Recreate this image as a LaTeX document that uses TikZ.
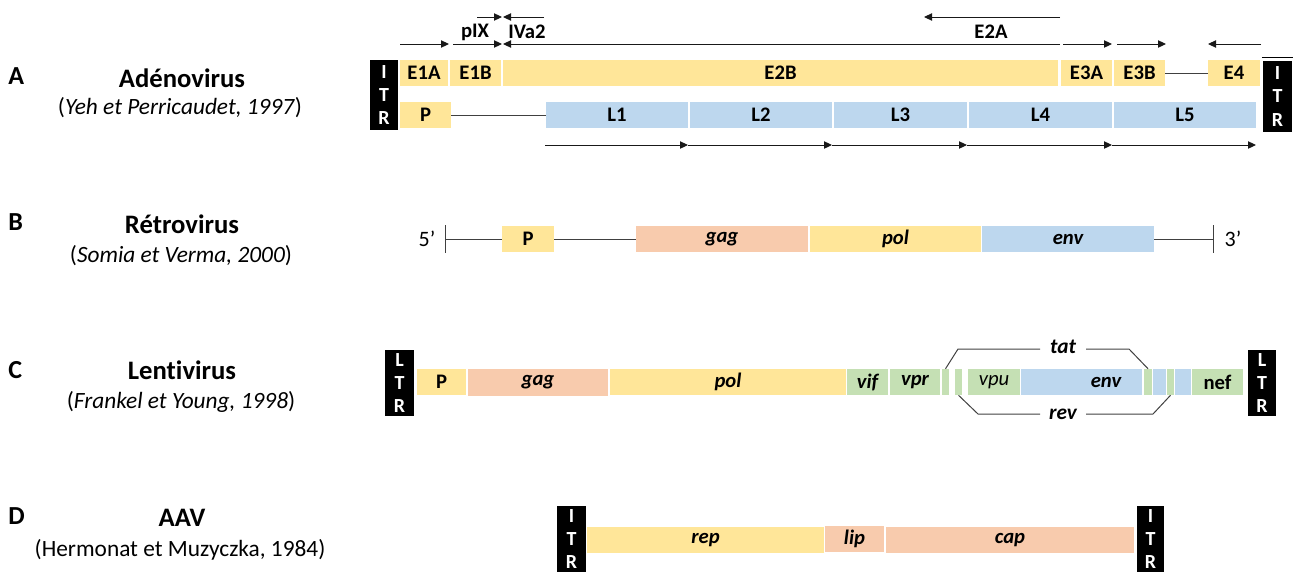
\documentclass[tikz,border=0pt]{standalone}
\usepackage{fontspec}
\setmainfont{Carlito}[Ligatures=NoCommon]
\usetikzlibrary{arrows.meta}
\definecolor{gyel}{HTML}{FFE699}
\definecolor{gblu}{HTML}{BDD7EE}
\definecolor{gsal}{HTML}{F8CBAD}
\definecolor{ggrn}{HTML}{C5E0B4}
\definecolor{lnc}{HTML}{404040}
\newcommand\myfs[2]{\fontsize{#1}{#2}\selectfont}
\newcommand\gbox[7]{\node[gene,#6,minimum width={(#4-#2)*0.75pt},minimum height={(#5-#3)*0.75pt}] (#1) at ({(#2+#4)/2},{(#3+#5)/2}) {#7};}
\tikzset{
  gene/.style={inner sep=0pt, draw=none, text=black, font=\bfseries\myfs{15.5}{17}},
  yel/.style={fill=gyel},
  blu/.style={fill=gblu},
  sal/.style={fill=gsal},
  grn/.style={fill=ggrn},
  itbf/.style={font=\bfseries\itshape\myfs{15.5}{17}},
  itrbox/.style={fill=black, text=white, align=center, font=\bfseries\myfs{15}{17.5}},
  arr/.style={-{Triangle[length=6pt,width=5.5pt]}, line width=0.75pt, draw=black!90},
  link/.style={line width=0.75pt, draw=lnc},
  lbl/.style={inner sep=0pt, text=black, font=\bfseries\myfs{15.5}{17}},
  letter/.style={inner sep=0pt, anchor=west, font=\bfseries\myfs{19.5}{22}},
  title/.style={inner sep=0pt, font=\bfseries\myfs{20}{24}},
  cite/.style={inner sep=0pt, font=\myfs{17.5}{20}},
  prime/.style={inner sep=0pt, font=\myfs{16.5}{19}},
}
\begin{document}
\begin{tikzpicture}[x=0.75pt,y=-0.75pt]
\useasboundingbox (0,0) rectangle (1294,572);

% ---------------- left labels ----------------
\node[letter] (lA) at (8,76) {A};
\node[title] (tA) at (182,78) {Adénovirus};
\node[cite] (cA) at (180,108) {(\textit{Yeh et Perricaudet, 1997})};
\node[letter] (lB) at (8,222) {B};
\node[title] (tB) at (182,224) {Rétrovirus};
\node[cite] (cB) at (181,256) {(\textit{Somia et Verma, 2000})};
\node[letter] (lC) at (8,370) {C};
\node[title] (tC) at (182,370) {Lentivirus};
\node[cite] (cC) at (181,402) {(\textit{Frankel et Young, 1998})};
\node[letter] (lD) at (8,516) {D};
\node[title] (tD) at (182,518) {AAV};
\node[cite] (cD) at (180,550) {(Hermonat et Muzyczka, 1984)};

% ---------------- A : adenovirus ----------------
\gbox{itrA1}{370}{60}{398}{130}{itrbox}{I\\T\\R}
\gbox{e1a}{400}{60}{448}{86}{yel}{E1A}
\gbox{e1b}{450}{60}{501}{86}{yel}{E1B}
\gbox{e2b}{503}{60}{1058}{86}{yel}{E2B}
\gbox{e3a}{1061}{60}{1112}{86}{yel}{E3A}
\gbox{e3b}{1114}{60}{1165}{86}{yel}{E3B}
\gbox{e4}{1208}{60}{1260}{86}{yel}{E4}
\gbox{itrA2}{1263}{61}{1292}{132}{itrbox}{I\\T\\R}
\draw[line width=1pt] (itrA2.north west)++(-1,-3) coordinate (itrtop1) -- ++(31,0) coordinate (itrtop2);
\gbox{pA}{400}{102}{451}{128}{yel}{P}
\gbox{L1}{546}{102}{688}{128}{blu}{L1}
\gbox{L2}{690}{102}{832}{128}{blu}{L2}
\gbox{L3}{834}{102}{967}{128}{blu}{L3}
\gbox{L4}{969}{102}{1112}{128}{blu}{L4}
\gbox{L5}{1114}{102}{1256}{128}{blu}{L5}
\draw[link] (pA.east) -- (L1.west);
\draw[link] (e3b.east) -- (e4.west);

% transcription arrows (top)
\coordinate (a1s) at (400,44); \coordinate (a1e) at (449,44);
\coordinate (a2s) at (453,44); \coordinate (a2e) at (502,44);
\coordinate (a3s) at (1060,44); \coordinate (a3e) at (503,44);
\coordinate (a4s) at (1063,44); \coordinate (a4e) at (1112,44);
\coordinate (a5s) at (1117,44); \coordinate (a5e) at (1166,44);
\coordinate (a6s) at (1261,44); \coordinate (a6e) at (1208,44);
\coordinate (t1s) at (477,17); \coordinate (t1e) at (502,17);
\coordinate (t2s) at (544,17); \coordinate (t2e) at (503,17);
\coordinate (t3s) at (1060,17); \coordinate (t3e) at (924,17);
\draw[arr] (a1s) -- (a1e);
\draw[arr] (a2s) -- (a2e);
\draw[arr] (a3s) -- (a3e);
\draw[arr] (a4s) -- (a4e);
\draw[arr] (a5s) -- (a5e);
\draw[arr] (a6s) -- (a6e);
\draw[arr] (t1s) -- (t1e);
\draw[arr] (t2s) -- (t2e);
\draw[arr] (t3s) -- (t3e);
\node[lbl] (pix) at (475,32) {pIX};
\node[lbl] (iva2) at (527,32) {IVa2};
\node[lbl] (e2a) at (991,32) {E2A};

% late arrows (bottom)
\coordinate (b0) at (545,145);
\coordinate (b1) at (688,145);
\coordinate (b2) at (832,145);
\coordinate (b3) at (967,145);
\coordinate (b4) at (1112,145);
\coordinate (b5) at (1256,145);
\draw[arr] (b0) -- (b1);
\draw[arr] (b1) -- (b2);
\draw[arr] (b2) -- (b3);
\draw[arr] (b3) -- (b4);
\draw[arr] (b4) -- (b5);

% ---------------- B : retrovirus ----------------
\coordinate (tk5a) at (445,225); \coordinate (tk5b) at (445,253); \coordinate (tk5) at (445,239);
\coordinate (tk3a) at (1213,225); \coordinate (tk3b) at (1213,253); \coordinate (tk3) at (1213,239);
\draw[link] (tk5a) -- (tk5b);
\draw[link] (tk3a) -- (tk3b);
\node[prime] (p5) at (427,239) {5’};
\node[prime] (p3) at (1233,239) {3’};
\gbox{pB}{502}{226}{554}{252}{yel}{P}
\gbox{gagB}{636}{226}{808}{252}{sal,itbf}{gag}
\gbox{polB}{810}{226}{981}{252}{yel,itbf}{pol}
\gbox{envB}{982}{226}{1154}{252}{blu,itbf}{env}
\draw[link] (tk5) -- (pB.west);
\draw[link] (pB.east) -- (gagB.west);
\draw[link] (envB.east) -- (tk3);

% ---------------- C : lentivirus ----------------
\gbox{ltrC1}{385}{350}{414}{416}{itrbox}{L\\T\\R}
\gbox{pC}{417}{369}{466}{395}{yel}{P}
\gbox{gagC}{468}{369}{608}{396}{sal,itbf}{gag}
\gbox{polC}{610}{369}{846}{395}{yel,itbf}{pol}
\gbox{vif}{847}{369}{888}{395}{grn,itbf}{vif}
\gbox{vpr}{890}{369}{940}{395}{grn,itbf}{vpr}
\gbox{sg1}{942}{369}{949}{395}{grn}{}
\gbox{sg2}{955}{369}{962}{395}{grn}{}
\gbox{vpu}{968}{369}{1020}{395}{grn,font=\itshape\myfs{15.5}{17}}{vpu}
\gbox{envC}{1021}{369}{1142}{395}{blu}{}
\node[lbl,font=\bfseries\itshape\myfs{15.5}{17}] (envCt) at (1106,382) {env};
\gbox{g3}{1144}{369}{1152}{395}{grn}{}
\gbox{bb2}{1153}{369}{1166}{395}{blu}{}
\gbox{g4}{1167}{369}{1174}{395}{grn}{}
\gbox{bb3}{1175}{369}{1191}{395}{blu}{}
\gbox{nef}{1192}{369}{1243}{395}{grn}{nef}
\gbox{ltrC2}{1248}{350}{1276}{416}{itrbox}{L\\T\\R}
\node[lbl,font=\bfseries\itshape\myfs{16}{18}] (tat) at (1063,347) {tat};
\node[lbl,font=\bfseries\itshape\myfs{16}{18}] (rev) at (1063,414) {rev};
\coordinate (tatL) at (958,349); \coordinate (tatLe) at (1040,349);
\coordinate (tatR) at (1129,349); \coordinate (tatRe) at (1086,349);
\coordinate (revL) at (978,414); \coordinate (revLe) at (1040,414);
\coordinate (revR) at (1153,414); \coordinate (revRe) at (1086,414);
\draw[link] (sg1.north) -- (tatL) -- (tatLe);
\draw[link] (tatRe) -- (tatR) -- (g3.north);
\draw[link] (sg2.south) -- (revL) -- (revLe);
\draw[link] (revRe) -- (revR) -- (g4.south);

% ---------------- D : AAV ----------------
\gbox{itrD1}{557}{506}{586}{572}{itrbox}{I\\T\\R}
\gbox{rep}{587}{527}{824}{553}{yel,itbf}{rep}
\gbox{lip}{825}{526}{884}{552}{sal,itbf}{lip}
\gbox{cap}{886}{527}{1134}{553}{sal,itbf}{cap}
\gbox{itrD2}{1137}{506}{1164}{572}{itrbox}{I\\T\\R}
\end{tikzpicture}
\end{document}
